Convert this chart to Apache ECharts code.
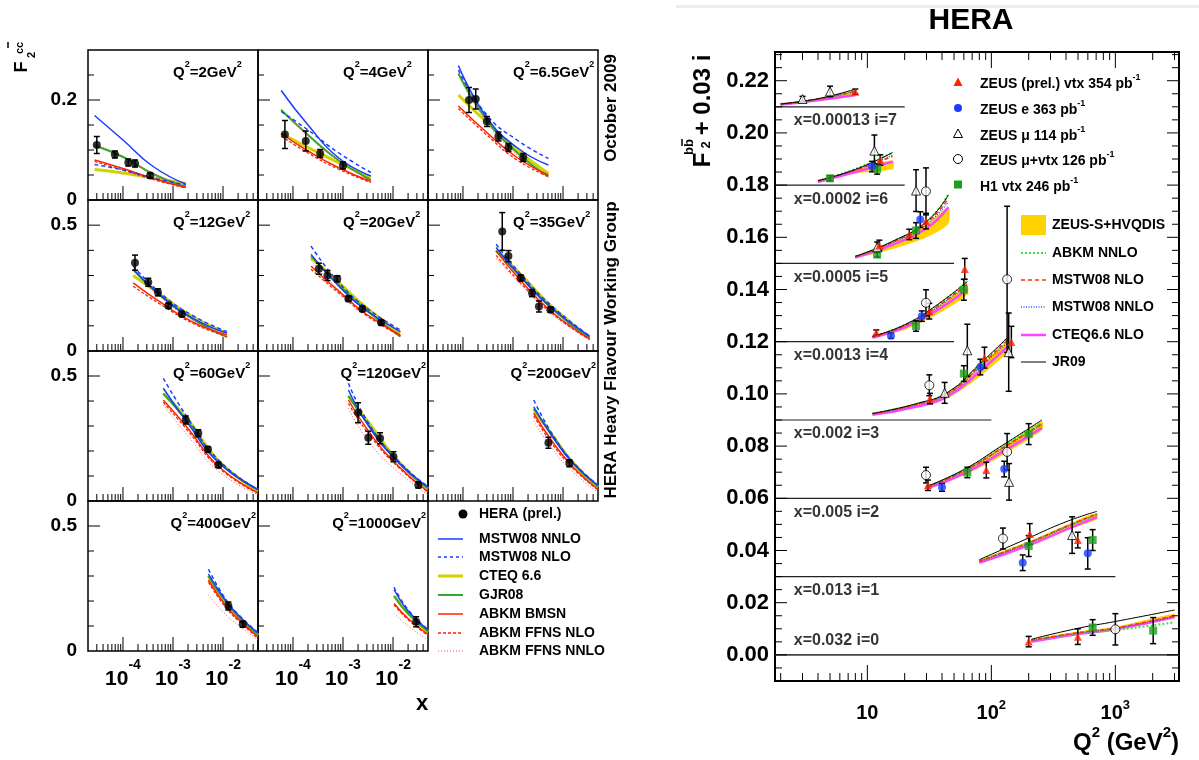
<!DOCTYPE html>
<html><head><meta charset="utf-8">
<script src="https://cdn.jsdelivr.net/npm/echarts@6/dist/echarts.min.js"></script>
<style>html,body{margin:0;padding:0;background:#fff}#c{width:1199px;height:760px}</style>
</head><body><div id="c"></div>
<script>
// ---------------- LEFT: F2 charm vs x ----------------
const ccQ2 = ['2','4','6.5','12','20','35','60','120','200','400','1000'];
const ccCurveX = [
 [2.7e-5,1e-4,4e-4,1.8e-3],
 [5.8e-5,2e-4,8e-4,3.6e-3],
 [8.1e-5,3e-4,1.2e-3,5.1e-3],
 [1.6e-4,6e-4,2.5e-3,1.2e-2],
 [2.3e-4,8e-4,3e-3,1.4e-2],
 [4.6e-4,1.5e-3,6e-3,3.4e-2],
 [6.4e-4,2e-3,8e-3,5e-2],
 [1.28e-3,3.5e-3,1.2e-2,5e-2],
 [2.6e-3,6e-3,1.6e-2,5e-2],
 [5.1e-3,1.2e-2,2.5e-2,5e-2],
 [1.05e-2,2e-2,5e-2]
];
const ccMSTW08NNLO = [
 [0.169,0.120,0.067,0.032],[0.219,0.150,0.085,0.048],[0.269,0.165,0.105,0.070],
 [0.324,0.217,0.130,0.071],[0.384,0.260,0.160,0.077],[0.411,0.290,0.170,0.058],
 [0.451,0.310,0.155,0.046],[0.444,0.290,0.160,0.055],[0.377,0.260,0.150,0.062],
 [0.308,0.195,0.125,0.072],[0.245,0.160,0.084]
];
const ccMSTW08NLO = [
 [0.071,0.060,0.044,0.030],[0.177,0.140,0.095,0.055],[0.260,0.170,0.120,0.083],
 [0.337,0.225,0.140,0.077],[0.417,0.275,0.170,0.084],[0.424,0.300,0.178,0.060],
 [0.491,0.330,0.165,0.046],[0.471,0.300,0.165,0.057],[0.404,0.270,0.155,0.064],
 [0.327,0.200,0.128,0.074],[0.255,0.165,0.086]
];
const ccCTEQ66 = [
 [0.061,0.054,0.044,0.033],[0.133,0.105,0.075,0.045],[0.210,0.155,0.100,0.053],
 [0.300,0.220,0.135,0.070],[0.370,0.275,0.170,0.072],[0.400,0.300,0.175,0.055],
 [0.430,0.325,0.162,0.040],[0.420,0.305,0.165,0.048],[0.365,0.265,0.152,0.056],
 [0.300,0.190,0.120,0.063],[0.220,0.150,0.076]
];
const ccGJR08 = [
 [0.109,0.086,0.052,0.026],[0.180,0.130,0.080,0.040],[0.253,0.160,0.095,0.047],
 [0.324,0.215,0.127,0.055],[0.377,0.265,0.160,0.057],[0.400,0.290,0.168,0.050],
 [0.430,0.315,0.158,0.045],[0.420,0.295,0.160,0.050],[0.370,0.265,0.150,0.058],
 [0.300,0.190,0.120,0.065],[0.220,0.150,0.078]
];
const ccABKMBMSN = [
 [0.080,0.063,0.043,0.025],[0.133,0.098,0.065,0.037],[0.188,0.135,0.085,0.050],
 [0.271,0.190,0.115,0.064],[0.337,0.240,0.145,0.064],[0.397,0.275,0.155,0.048],
 [0.404,0.290,0.140,0.033],[0.404,0.270,0.145,0.037],[0.351,0.240,0.135,0.046],
 [0.284,0.175,0.110,0.055],[0.190,0.130,0.066]
];
const ccABKMFFNSNLO = [
 [0.077,0.060,0.041,0.024],[0.128,0.094,0.062,0.035],[0.183,0.130,0.080,0.047],
 [0.257,0.182,0.110,0.057],[0.325,0.232,0.140,0.060],[0.380,0.265,0.150,0.045],
 [0.395,0.280,0.135,0.030],[0.390,0.260,0.140,0.035],[0.340,0.230,0.130,0.044],
 [0.275,0.168,0.105,0.050],[0.185,0.125,0.062]
];
const ccABKMFFNSNNLO = [
 [0.112,0.088,0.053,0.027],[0.182,0.128,0.078,0.038],[0.250,0.155,0.090,0.045],
 [0.320,0.210,0.120,0.058],[0.360,0.245,0.145,0.060],[0.370,0.260,0.145,0.045],
 [0.384,0.260,0.120,0.025],[0.370,0.230,0.120,0.025],[0.320,0.210,0.115,0.035],
 [0.224,0.140,0.090,0.044],[0.150,0.100,0.045]
];
const ccDataX = [
 [3e-5,6.9e-5,1.28e-4,1.74e-4,3.5e-4],
 [6.9e-5,1.8e-4,3.5e-4,1.0e-3],
 [1.32e-4,1.8e-4,3e-4,5.1e-4,8.1e-4,1.6e-3],
 [1.74e-4,3.2e-4,5e-4,8.1e-4,1.5e-3],
 [3.3e-4,4.9e-4,7.7e-4,1.28e-3,2.44e-3,5.8e-3],
 [6.1e-4,8.1e-4,1.43e-3,2.4e-3,3.3e-3,5.6e-3],
 [1.8e-3,3.2e-3,5e-3,8.1e-3],
 [2e-3,3.2e-3,5.5e-3,1.02e-2,3.2e-2],
 [5.1e-3,1.34e-2],
 [1.28e-2,2.48e-2],
 [2.9e-2]
];
const ccDataY = [
 [0.110,0.091,0.075,0.073,0.049],
 [0.131,0.118,0.093,0.069],
 [0.200,0.202,0.157,0.127,0.105,0.085],
 [0.351,0.273,0.233,0.180,0.147],
 [0.327,0.300,0.287,0.208,0.167,0.113],
 [0.475,0.377,0.290,0.230,0.177,0.164],
 [0.324,0.271,0.207,0.144],
 [0.353,0.253,0.251,0.177,0.064],
 [0.233,0.151],
 [0.180,0.107],
 [0.117]
];
const ccDataErr = [
 [0.017,0.007,0.007,0.007,0.005],
 [0.028,0.020,0.008,0.007],
 [0.025,0.020,0.010,0.009,0.008,0.008],
 [0.030,0.016,0.014,0.010,0.010],
 [0.022,0.020,0.012,0.010,0.010,0.010],
 [0.075,0.022,0.012,0.014,0.022,0.010],
 [0.016,0.014,0.010,0.010],
 [0.040,0.026,0.022,0.020,0.012],
 [0.022,0.014],
 [0.016,0.012],
 [0.020]
];
const ccXLabels = [1e-4,1e-3,1e-2];
const ccYLabelsTop = [0,0.2];
const ccYLabelsLow = [0,0.5];

// ---------------- RIGHT: F2 beauty vs Q2 ----------------
const bbBinX = ['0.032','0.013','0.005','0.002','0.0013','0.0005','0.0002','0.00013']; // i = 0..7
const bbLineEnd = [3260,1000,100,100,50,50,20,20];
const bbCurveQ2 = [
 [210,500,1000,3000],[80,200,400,710],[30,60,120,256],[11,25,45,80,138],
 [11,20,35,64],[8,16,30,45],[4,8,16],[2,4,8]
];
const bbJR09 = [
 [0.0060,0.0102,0.0128,0.0172],[0.0065,0.0148,0.0210,0.0250],[0.0045,0.0110,0.0200,0.0300],
 [0.0025,0.0063,0.0108,0.0213,0.0320],[0.0020,0.0065,0.0135,0.0230],[0.0027,0.0085,0.0160,0.0262],
 [0.0017,0.0060,0.0125],[0.0011,0.0031,0.0068]
];
const bbABKMNNLO = [
 [0.0055,0.0082,0.0095,0.0125],[0.0060,0.0130,0.0190,0.0238],[0.0044,0.0108,0.0195,0.0290],
 [0.0025,0.0062,0.0106,0.0210,0.0318],[0.0020,0.0064,0.0133,0.0232],[0.0027,0.0083,0.0160,0.0265],
 [0.0017,0.0062,0.0125],[0.0011,0.0030,0.0062]
];
const bbMSTW08NLO = [
 [0.0056,0.0085,0.0103,0.0150],[0.0060,0.0130,0.0192,0.0240],[0.0043,0.0105,0.0190,0.0285],
 [0.0024,0.0060,0.0103,0.0205,0.0310],[0.0019,0.0062,0.0128,0.0222],[0.0026,0.0082,0.0155,0.0250],
 [0.0016,0.0058,0.0110],[0.0011,0.0030,0.0060]
];
const bbMSTW08NNLO = [
 [0.0055,0.0084,0.0102,0.0148],[0.0058,0.0128,0.0190,0.0238],[0.0042,0.0103,0.0188,0.0282],
 [0.0024,0.0059,0.0101,0.0200,0.0300],[0.0019,0.0061,0.0125,0.0218],[0.0025,0.0080,0.0150,0.0237],
 [0.0016,0.0058,0.0115],[0.0010,0.0029,0.0058]
];
const bbCTEQ66 = [
 [0.0050,0.0080,0.0098,0.0145],[0.0053,0.0120,0.0180,0.0228],[0.0037,0.0095,0.0175,0.0270],
 [0.0020,0.0052,0.0092,0.0185,0.0285],[0.0015,0.0055,0.0115,0.0200],[0.0022,0.0072,0.0135,0.0215],
 [0.0012,0.0050,0.0090],[0.0008,0.0025,0.0045]
];
const bbBandLow = [
 [0.0052,0.0082,0.0100,0.0140],[0.0055,0.0120,0.0178,0.0220],[0.0038,0.0088,0.0162,0.0262],
 [0.0020,0.0048,0.0085,0.0165,0.0265],[0.0016,0.0045,0.0100,0.0180],[0.0020,0.0055,0.0100,0.0152],
 [0.0012,0.0045,0.0062],[0.0008,0.0024,0.0040]
];
const bbBandHigh = [
 [0.0060,0.0090,0.0108,0.0158],[0.0063,0.0135,0.0198,0.0245],[0.0045,0.0107,0.0195,0.0295],
 [0.0025,0.0060,0.0104,0.0205,0.0305],[0.0021,0.0062,0.0128,0.0215],[0.0027,0.0082,0.0150,0.0215],
 [0.0017,0.0060,0.0094],[0.0012,0.0030,0.0058]
];
// data points: [Q2, F2bb, i, error]
const bbZEUSvtx = [
 [8,0.0058,7,0.001],[12.7,0.0096,6,0.002],
 [12.5,0.0069,5,0.002],[21.8,0.0111,5,0.002],[29.7,0.0162,5,0.003],
 [11.8,0.0035,4,0.001],[31.6,0.0117,4,0.003],[61,0.0279,4,0.004],
 [32,0.0082,3,0.002],[88,0.0239,3,0.004],[145,0.0299,3,0.006],
 [30.8,0.0050,2,0.002],[91,0.0108,2,0.003],
 [204,0.0163,1,0.004],[498,0.0140,1,0.003],
 [200,0.0051,0,0.002],[498,0.0070,0,0.003]
];
const bbZEUSe = [
 [10.9,0.0071,6,0.002],[26.7,0.0168,5,0.003],
 [15.5,0.0023,4,0.001],[27.5,0.0098,4,0.002],
 [81.5,0.0203,3,0.003],
 [40,0.0042,2,0.0015],[127,0.0112,2,0.003],
 [179,0.0053,1,0.003],[599,0.0089,1,0.006]
];
const bbZEUSmu = [
 [3,0.0030,7,0.001],[5,0.0059,7,0.002],[11.4,0.0132,6,0.006],
 [12,0.0062,5,0.002],[24.7,0.0279,5,0.008],
 [42,0.0104,3,0.004],[64,0.0267,3,0.010],[138,0.0260,3,0.015],
 [139,0.0063,2,0.007],[448,0.0159,1,0.007]
];
const bbZEUSmuvtx = [
 [29.7,0.0276,5,0.009],[29.7,0.0149,4,0.005],[134,0.0239,4,0.028],
 [31.6,0.0133,3,0.004],[29.7,0.0089,2,0.003],[134,0.0178,2,0.007],
 [124,0.0146,1,0.004],[1000,0.0098,0,0.006]
];
const bbH1vtx = [
 [5,0.0026,6,0.001],[12,0.0062,6,0.002],
 [12,0.0034,5,0.001],[24.7,0.0126,5,0.003],
 [24.7,0.0060,4,0.002],[60,0.0199,4,0.004],
 [60,0.0178,3,0.003],
 [64,0.0099,2,0.002],[200,0.0246,2,0.004],
 [200,0.0117,1,0.004],[656,0.0140,1,0.004],
 [656,0.0105,0,0.003],[2018,0.0093,0,0.005]
];
const bbOffsetStep = 0.03;
const bbYLabels = [0,0.02,0.04,0.06,0.08,0.10,0.12,0.14,0.16,0.18,0.20,0.22];
const bbXLabels = [10,100,1000];

// ---------------- layout / styles ----------------
const FONT = '"Liberation Sans", Arial, Helvetica, sans-serif';
const colL = [88,258,428], rowT = [50,200,351,501], rowH = [150,151,150,150];
const LXMIN = 2e-5, LXMAX = 0.05;
const RXMIN = 1.8, RXMAX = 3260, RYMIN = -0.01, RYMAX = 0.231;
const RG = 11;
const q2RightAligned = [7,8,9,10];

const BLUE='#1a3dff', YEL='#d2d200', GRN='#33a833', RED='#ff2200', RED2='#ff5050';
const ccStyles = [
 {name:'CTEQ 6.6', d:ccCTEQ66, color:YEL, width:3, type:'solid'},
 {name:'GJR08', d:ccGJR08, color:GRN, width:2, type:'solid'},
 {name:'ABKM FFNS NNLO', d:ccABKMFFNSNNLO, color:RED2, width:1, type:[1,2]},
 {name:'ABKM FFNS NLO', d:ccABKMFFNSNLO, color:RED, width:1.3, type:[3,2]},
 {name:'ABKM BMSN', d:ccABKMBMSN, color:RED, width:1.5, type:'solid'},
 {name:'MSTW08 NLO', d:ccMSTW08NLO, color:BLUE, width:1.5, type:[4,3]},
 {name:'MSTW08 NNLO', d:ccMSTW08NNLO, color:BLUE, width:1.5, type:'solid'}
];
const bbStyles = [
 {d:bbCTEQ66, color:'#ff44ff', width:2.5, type:'solid'},
 {d:bbABKMNNLO, color:'#3ee03e', width:2, type:[2,2]},
 {d:bbMSTW08NNLO, color:'#3050ff', width:1.5, type:[1,1.5]},
 {d:bbMSTW08NLO, color:'#ff3300', width:1.5, type:[4,3]},
 {d:bbJR09, color:'#000', width:1, type:'solid'}
];

// ---------------- renderers ----------------
function tickRender(params, api){
  const cs = params.coordSys;
  const kind = api.value(2), len = api.value(3);
  const p = api.coord([api.value(0), api.value(1)]);
  let s;
  if (kind===0) s={x1:p[0],y1:cs.y+cs.height,x2:p[0],y2:cs.y+cs.height-len};
  else if (kind===1) s={x1:p[0],y1:cs.y,x2:p[0],y2:cs.y+len};
  else if (kind===2) s={x1:cs.x,y1:p[1],x2:cs.x+len,y2:p[1]};
  else s={x1:cs.x+cs.width,y1:p[1],x2:cs.x+cs.width-len,y2:p[1]};
  return {type:'line', shape:s, style:{stroke:'#000', lineWidth:1}};
}
function errRender(params, api){
  const x=api.value(0), y=api.value(1), e=api.value(2);
  const t=api.coord([x,y+e]), b=api.coord([x,y-e]);
  const w=3, st={stroke:'#000', lineWidth:1.5};
  return {type:'group', children:[
    {type:'line', shape:{x1:t[0],y1:t[1],x2:b[0],y2:b[1]}, style:st},
    {type:'line', shape:{x1:t[0]-w,y1:t[1],x2:t[0]+w,y2:t[1]}, style:st},
    {type:'line', shape:{x1:b[0]-w,y1:b[1],x2:b[0]+w,y2:b[1]}, style:st}
  ]};
}
function bandRender(params, api){
  if (params.dataIndexInside !== 0) return null;
  const n = params.dataInsideLength, lo=[], hi=[];
  for (let j=0;j<n;j++){
    const q=api.value(0,j);
    lo.push(api.coord([q, api.value(1,j)]));
    hi.push(api.coord([q, api.value(2,j)]));
  }
  return {type:'polygon', shape:{points: lo.concat(hi.reverse()), smooth:0.25}, style:{fill:'#ffd200'}};
}

const grids=[], xAxes=[], yAxes=[], series=[];
const supRich = (b, s, lhB, lhS) => ({
  b:{fontSize:b, fontWeight:'bold', fontFamily:FONT, color:'#000', lineHeight:lhB, verticalAlign:'bottom'},
  s:{fontSize:s, fontWeight:'bold', fontFamily:FONT, color:'#000', lineHeight:lhS, verticalAlign:'top'}
});

// ---- left panels
for (let k=0;k<11;k++){
  const row=Math.floor(k/3), col=k%3;
  grids.push({left:colL[col], top:rowT[row], width:170, height:rowH[row], show:true, borderColor:'#000', borderWidth:1.5, backgroundColor:'transparent'});
  xAxes.push({type:'log', logBase:10, gridIndex:k, min:LXMIN, max:LXMAX,
    axisLine:{show:false}, axisTick:{show:false}, splitLine:{show:false},
    axisLabel: k>=9 ? {show:true, customValues:ccXLabels, margin:7,
      formatter:v=>'{b|10}{s|'+Math.round(Math.log10(v))+'}', rich:supRich(21,14,32,6)} : {show:false}});
  const ymax = row===0?0.3:0.6;
  yAxes.push({type:'value', gridIndex:k, min:0, max:ymax,
    axisLine:{show:false}, axisTick:{show:false}, splitLine:{show:false},
    axisLabel: col===0 ? {show:true, customValues: row===0?ccYLabelsTop:ccYLabelsLow, margin:11,
      fontSize:19, fontWeight:'bold', fontFamily:FONT, color:'#000', formatter:v=>v===0?'0':String(v)} : {show:false}});
  ccStyles.forEach((s,si)=>{
    series.push({type:'line', xAxisIndex:k, yAxisIndex:k, smooth:true, showSymbol:false, silent:true,
      data: ccCurveX[k].map((x,j)=>[x, s.d[k][j]]),
      lineStyle:{color:s.color, width:s.width, type:s.type}, z:2+si*0.01});
  });
  const pts = ccDataX[k].map((x,j)=>[x, ccDataY[k][j], ccDataErr[k][j]]);
  series.push({type:'custom', xAxisIndex:k, yAxisIndex:k, data:pts, renderItem:errRender, silent:true, z:4});
  series.push({type:'scatter', xAxisIndex:k, yAxisIndex:k, data:pts.map(p=>[p[0],p[1]]), symbol:'circle', symbolSize:8, itemStyle:{color:'#000'}, silent:true, z:5});
  const tk=[];
  for (let n=-5;n<=-2;n++) for (let m=1;m<=9;m++){
    const v=m*Math.pow(10,n);
    if (v>LXMIN*1.01 && v<LXMAX*0.99) tk.push([v,0,0,m===1?14:7]);
  }
  const ymaj = row===0?[0.2]:[0.5], ymin = row===0?[0.05,0.1,0.15,0.25]:[0.1,0.2,0.3,0.4];
  ymaj.forEach(v=>tk.push([LXMIN,v,2,12]));
  ymin.forEach(v=>tk.push([LXMIN,v,2,6]));
  series.push({type:'custom', xAxisIndex:k, yAxisIndex:k, data:tk, renderItem:tickRender, silent:true, z:6});
}

// ---- right panel
grids.push({left:775, top:52, width:404, height:629, show:true, borderColor:'#000', borderWidth:2, backgroundColor:'transparent'});
xAxes.push({type:'log', logBase:10, gridIndex:RG, min:RXMIN, max:RXMAX,
  axisLine:{show:false}, axisTick:{show:false}, splitLine:{show:false},
  axisLabel:{show:true, customValues:bbXLabels, margin:18,
    formatter:v=>{const e=Math.round(Math.log10(v)); return e===1?'{b|10}':'{b|10}{s|'+e+'}';}, rich:supRich(20,13,24,8)}});
yAxes.push({type:'value', gridIndex:RG, min:RYMIN, max:RYMAX,
  axisLine:{show:false}, axisTick:{show:false}, splitLine:{show:false},
  axisLabel:{show:true, customValues:bbYLabels, margin:6, fontSize:22, fontWeight:'bold', fontFamily:FONT, color:'#000', formatter:v=>v.toFixed(2)}});

for (let i=0;i<8;i++){
  const off = bbOffsetStep*i;
  series.push({type:'custom', xAxisIndex:RG, yAxisIndex:RG, silent:true, z:1,
    data: bbCurveQ2[i].map((q,j)=>[q, bbBandLow[i][j]+off, bbBandHigh[i][j]+off]), renderItem:bandRender});
  bbStyles.forEach((s,si)=>{
    series.push({type:'line', xAxisIndex:RG, yAxisIndex:RG, smooth:true, showSymbol:false, silent:true,
      data: bbCurveQ2[i].map((q,j)=>[q, s.d[i][j]+off]),
      lineStyle:{color:s.color, width:s.width, type:s.type}, z:2+si*0.01});
  });
  series.push({type:'line', xAxisIndex:RG, yAxisIndex:RG, showSymbol:false, silent:true,
    data:[[RXMIN,off],[bbLineEnd[i],off]], lineStyle:{color: i===0?'#444':'#222', width: i===0?1.6:1.2}, z:2});
  series.push({type:'scatter', xAxisIndex:RG, yAxisIndex:RG, silent:true, symbolSize:0,
    data:[[2.55, off]], z:6,
    label:{show:true, position:[0, i===0?-14:14], align:'left', verticalAlign:'middle',
      formatter:'x='+bbBinX[i]+' i='+i, fontSize:16, fontWeight:'bold', fontFamily:FONT, color:'#000'}});
}
const bbSets = [
 {d:bbH1vtx, symbol:'rect', size:8, color:'#1e9e1e', border:null},
 {d:bbZEUSmuvtx, symbol:'circle', size:9, color:'#fff', border:'#000'},
 {d:bbZEUSmu, symbol:'triangle', size:9, color:'#fff', border:'#000'},
 {d:bbZEUSe, symbol:'circle', size:8, color:'#1a3dff', border:null},
 {d:bbZEUSvtx, symbol:'triangle', size:8, color:'#ff2200', border:null}
];
bbSets.forEach((s,si)=>{
  const pts = s.d.map(p=>[p[0], p[1]+bbOffsetStep*p[2], p[3]]);
  series.push({type:'custom', xAxisIndex:RG, yAxisIndex:RG, data:pts, renderItem:errRender, silent:true, z:4});
  series.push({type:'scatter', xAxisIndex:RG, yAxisIndex:RG, data:pts.map(p=>[p[0],p[1]]), symbol:s.symbol, symbolSize:s.size,
    itemStyle:{color:s.color, borderColor:s.border||s.color, borderWidth:s.border?1:0}, silent:true, z:5+si*0.01});
});
{
  const tk=[];
  for (let n=0;n<=3;n++) for (let m=1;m<=9;m++){
    const v=m*Math.pow(10,n);
    if (v>RXMIN*1.01 && v<RXMAX*0.99){ const L=m===1?16:8; tk.push([v,0,0,L]); tk.push([v,0,1,L]); }
  }
  for (let j=-1;j<=46;j++){
    const v=j*0.005; if (v<=RYMIN || v>=RYMAX) continue;
    const L=(j%4===0 && v>=0 && v<=0.221)?12:7;
    tk.push([RXMIN,v,2,L]); tk.push([RXMIN,v,3,L]);
  }
  series.push({type:'custom', xAxisIndex:RG, yAxisIndex:RG, data:tk, renderItem:tickRender, silent:true, z:6});
}

// ---------------- texts & legends (graphic) ----------------
const G=[];
function T(x,y,text,size,o){
  o=o||{};
  G.push({type:'text', x:x, y:y, rotation:o.rot||0, z:100, silent:true,
    style:{text:text, fontSize:size, fontWeight:'bold', fontFamily:FONT, fill:'#000',
      align:o.align||'left', textAlign:o.align||'left', verticalAlign:'middle', textVerticalAlign:'middle', rich:o.rich}});
}
function Lseg(x1,y1,x2,y2,color,width,dash){
  G.push({type:'line', z:100, silent:true, shape:{x1,y1,x2,y2}, style:{stroke:color, lineWidth:width, lineDash:dash||null}});
}
const q2Rich = {n:{fontSize:15,fontWeight:'bold',fontFamily:FONT,color:'#000',lineHeight:20,verticalAlign:'bottom'},
                s:{fontSize:9,fontWeight:'bold',fontFamily:FONT,color:'#000',lineHeight:8,verticalAlign:'top'}};
for (let k=0;k<11;k++){
  const row=Math.floor(k/3), col=k%3;
  const txt='{n|Q}{s|2}{n|='+ccQ2[k]+'GeV}{s|2}';
  if (q2RightAligned.indexOf(k)>=0) T(colL[col]+168, rowT[row]+20, txt, 15, {align:'right', rich:q2Rich});
  else T(colL[col]+85, rowT[row]+20, txt, 15, {rich:q2Rich});
}
T(22,67,'F',18,{rot:Math.PI/2, align:'center'});
T(20,48,'cc',11,{rot:Math.PI/2, align:'center'});
T(32,55,'2',11,{rot:Math.PI/2, align:'center'});
Lseg(8,42,8,48,'#000',1.5);
T(422,704,'x',22,{align:'center'});
T(611,108,'October 2009',17,{rot:Math.PI/2, align:'center'});
T(611,350,'HERA Heavy Flavour Working Group',17,{rot:Math.PI/2, align:'center'});
G.push({type:'circle', z:100, silent:true, shape:{cx:463,cy:514,r:4.5}, style:{fill:'#000'}});
T(479,514,'HERA (prel.)',14);
const legL = [
 ['MSTW08 NNLO',BLUE,1.5,null],['MSTW08 NLO',BLUE,1.5,[3,3]],['CTEQ 6.6',YEL,3,null],['GJR08',GRN,2,null],
 ['ABKM BMSN',RED,1.5,null],['ABKM FFNS NLO',RED,1.3,[3,2]],['ABKM FFNS NNLO',RED2,1,[1,2]]
];
const legLy=[539,557,576,595,614,633,651];
legL.forEach((e,j)=>{ Lseg(438,legLy[j],463,legLy[j],e[1],e[2],e[3]); T(479,legLy[j],e[0],14); });

G.push({type:'rect', z:0, silent:true, shape:{x:676,y:5,width:523,height:3}, style:{fill:'#ececec'}});
T(971,21,'HERA',30,{align:'center'});
T(703,95,'+ 0.03 i',24,{rot:Math.PI/2, align:'center'});
T(703,160,'F',24,{rot:Math.PI/2, align:'center'});
T(689,147,'bb',13,{rot:Math.PI/2, align:'center'});
T(706,145,'2',13,{rot:Math.PI/2, align:'center'});
Lseg(682,139,682,146,'#000',1.5);
const qRich = {n:{fontSize:24,fontWeight:'bold',fontFamily:FONT,color:'#000',lineHeight:30,verticalAlign:'bottom'},
               s:{fontSize:15,fontWeight:'bold',fontFamily:FONT,color:'#000',lineHeight:10,verticalAlign:'top'}};
T(1179,740,'{n|Q}{s|2}{n| (GeV}{s|2}{n|)}',24,{align:'right', rich:qRich});
const lgRich = {n:{fontSize:14,fontWeight:'bold',fontFamily:FONT,color:'#000',lineHeight:18,verticalAlign:'bottom'},
                s:{fontSize:9,fontWeight:'bold',fontFamily:FONT,color:'#000',lineHeight:8,verticalAlign:'top'}};
G.push({type:'polygon', z:100, silent:true, shape:{points:[[958,77.5],[962.5,86],[953.5,86]]}, style:{fill:'#ff2200'}});
G.push({type:'circle', z:100, silent:true, shape:{cx:958,cy:108,r:4}, style:{fill:'#1a3dff'}});
G.push({type:'polygon', z:100, silent:true, shape:{points:[[958,129],[962.5,137.5],[953.5,137.5]]}, style:{fill:'#fff', stroke:'#000', lineWidth:1}});
G.push({type:'circle', z:100, silent:true, shape:{cx:958,cy:159,r:4.5}, style:{fill:'#fff', stroke:'#000', lineWidth:1}});
G.push({type:'rect', z:100, silent:true, shape:{x:954,y:180.5,width:8,height:8}, style:{fill:'#1e9e1e'}});
T(980,82,'{n|ZEUS (prel.) vtx 354 pb}{s|-1}',14,{rich:lgRich});
T(980,108,'{n|ZEUS e 363 pb}{s|-1}',14,{rich:lgRich});
T(980,134,'{n|ZEUS μ 114 pb}{s|-1}',14,{rich:lgRich});
T(980,159,'{n|ZEUS μ+vtx 126 pb}{s|-1}',14,{rich:lgRich});
T(980,185,'{n|H1 vtx 246 pb}{s|-1}',14,{rich:lgRich});
G.push({type:'rect', z:100, silent:true, shape:{x:1021,y:215,width:25,height:20}, style:{fill:'#ffd200'}});
T(1052,225,'ZEUS-S+HVQDIS',14);
const legR = [
 ['ABKM NNLO','#3ee03e',2,[2,2],253],['MSTW08 NLO','#ff3300',1.5,[4,3],280],
 ['MSTW08 NNLO','#3050ff',1.5,[1,1.5],307],['CTEQ6.6 NLO','#ff44ff',2.5,null,335],['JR09','#000',1,null,362]
];
legR.forEach(e=>{ Lseg(1021,e[4],1046,e[4],e[1],e[2],e[3]); T(1052,e[4],e[0],14); });

const chart = echarts.init(document.getElementById('c'), null, {renderer:'canvas'});
chart.setOption({
  animation:false, backgroundColor:'#fff',
  grid:grids, xAxis:xAxes, yAxis:yAxes, series:series,
  graphic:{elements:G}
});
</script></body></html>
